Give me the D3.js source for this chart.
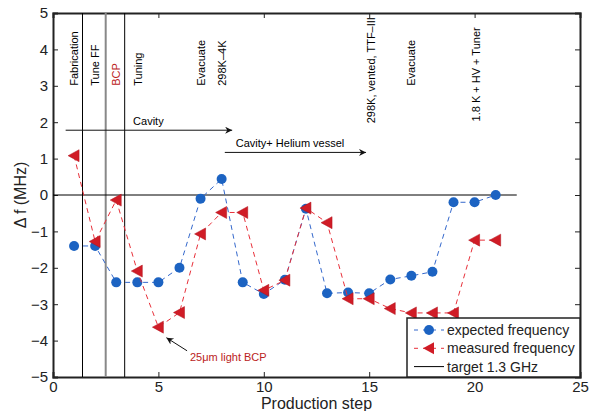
<!DOCTYPE html>
<html>
<head>
<meta charset="utf-8">
<script src="https://cdn.jsdelivr.net/npm/d3@7"></script>
<style>
  body { margin: 0; background: #fff; }
  text { font-family: "Liberation Sans", Arial, sans-serif; }
</style>
</head>
<body>
<div id="chart"></div>
<script>
// production steps and frequency offsets (MHz)
var steps = [1,2,3,4,5,6,7,8,9,10,11,12,13,14,15,16,17,18,19,20,21];
var expected = [-1.4,-1.4,-2.4,-2.4,-2.4,-2.0,-0.1,0.44,-2.4,-2.72,-2.33,-0.38,-2.7,-2.68,-2.7,-2.32,-2.22,-2.11,-0.2,-0.2,0.0];
var measured = [1.08,-1.28,-0.14,-2.09,-3.63,-3.23,-1.07,-0.48,-0.48,-2.62,-2.34,-0.36,-0.76,-2.85,-2.85,-3.12,-3.24,-3.24,-3.24,-1.24,-1.24];

var xTicks = [0,5,10,15,20,25];
var yTicks = [-5,-4,-3,-2,-1,0,1,2,3,4,5];

// phase separators
var separators = [{x: 1.4, c: "#000"}, {x: 2.5, c: "#888"}, {x: 3.4, c: "#000"}];

// rotated step labels
var stepLabels = [
  {x: 1, y: 3, t: "Fabrication", c: "#000"},
  {x: 2, y: 3, t: "Tune FF", c: "#000"},
  {x: 3, y: 3, t: "BCP", c: "#b22"},
  {x: 4.05, y: 3, t: "Tuning", c: "#000"},
  {x: 7, y: 3, t: "Evacuate", c: "#000"},
  {x: 8, y: 3, t: "298K\u20134K", c: "#000"},
  {x: 15.1, y: 1.97, t: "298K, vented, TTF\u2013III", c: "#000"},
  {x: 17, y: 3, t: "Evacuate", c: "#000"},
  {x: 20.05, y: 2.02, t: "1.8 K + HV + Tuner", c: "#000"}
];

var W = 594, H = 411;
var x0 = 53, x1 = 580, y0 = 13, y1 = 377;

var svg = d3.select("#chart").append("svg")
    .attr("width", W).attr("height", H);

var x = d3.scaleLinear().domain([0, 25]).range([x0, x1]);
var y = d3.scaleLinear().domain([-5, 5]).range([y1, y0]);

svg.append("defs").append("marker")
    .attr("id", "arrow")
    .attr("viewBox", "0 -5 10 10")
    .attr("refX", 10).attr("refY", 0)
    .attr("markerWidth", 10).attr("markerHeight", 7)
    .attr("markerUnits", "userSpaceOnUse")
    .attr("orient", "auto")
    .append("path")
    .attr("d", "M0,-5L10,0L0,5L3,0Z")
    .style("fill", "#111");

// axes
var gx = svg.append("g").attr("transform", "translate(0," + y1 + ")")
    .call(d3.axisBottom(x).tickValues(xTicks).tickSize(-5).tickPadding(6));
var gy = svg.append("g").attr("transform", "translate(" + x0 + ",0)")
    .call(d3.axisLeft(y).tickValues(yTicks).tickSize(-5).tickPadding(5).tickFormat(function(d){ return d < 0 ? "\u2212" + (-d) : d; }));
var gt = svg.append("g").attr("transform", "translate(0," + y0 + ")")
    .call(d3.axisTop(x).tickValues(xTicks).tickSize(-5).tickFormat(""));
var gr = svg.append("g").attr("transform", "translate(" + x1 + ",0)")
    .call(d3.axisRight(y).tickValues(yTicks).tickSize(-5).tickFormat(""));

[gx, gy, gt, gr].forEach(function(g){
  g.select(".domain").attr("stroke", "#222").attr("stroke-width", 2);
  g.selectAll(".tick line").attr("stroke", "#222");
  g.selectAll(".tick text").attr("fill", "#222").style("font-size", "15px");
});
gx.selectAll(".tick text").attr("dy", "0.6em");

// separators and target line
svg.selectAll(".sep").data(separators).enter().append("line")
    .attr("x1", function(d){ return x(d.x); }).attr("x2", function(d){ return x(d.x); })
    .attr("y1", y0).attr("y2", y1)
    .style("stroke", function(d){ return d.c; })
    .style("stroke-width", function(d){ return d.c === "#000" ? 1 : 2; });

svg.append("line")
    .attr("x1", x(0)).attr("x2", x(22))
    .attr("y1", y(0)).attr("y2", y(0))
    .style("stroke", "#000").style("stroke-width", 1);

// step labels
svg.selectAll(".lab").data(stepLabels).enter().append("text")
    .attr("transform", function(d){ return "translate(" + x(d.x) + "," + y(d.y) + ") rotate(-90)"; })
    .attr("dominant-baseline", "central")
    .style("font-size", "11px")
    .style("fill", function(d){ return d.c; })
    .text(function(d){ return d.t; });

// phase arrows
svg.append("line")
    .attr("x1", x(0.6)).attr("x2", x(8.5))
    .attr("y1", y(1.78)).attr("y2", y(1.78))
    .style("stroke", "#111").attr("marker-end", "url(#arrow)");
svg.append("text").attr("x", x(3.8)).attr("y", y(1.78) - 5)
    .style("font-size", "11px").text("Cavity");

svg.append("line")
    .attr("x1", x(8.15)).attr("x2", x(14.85))
    .attr("y1", y(1.17)).attr("y2", y(1.17))
    .style("stroke", "#111").attr("marker-end", "url(#arrow)");
svg.append("text").attr("x", x(8.15) + 11).attr("y", y(1.17) - 5)
    .style("font-size", "11px").text("Cavity+ Helium vessel");

// series
var blue = "#1c63c2", blueLine = "#3468cc", red = "#d01c26", redLine = "#e8303a";

var line = d3.line().x(function(d){ return x(d[0]); }).y(function(d){ return y(d[1]); });
var expPts = steps.map(function(s, i){ return [s, expected[i]]; });
var meaPts = steps.map(function(s, i){ return [s, measured[i]]; });

svg.append("path").datum(expPts).attr("d", line)
    .style("fill", "none").style("stroke", blueLine).style("stroke-width", 1)
    .style("stroke-dasharray", "5,4");
svg.selectAll(".exp").data(expPts).enter().append("circle")
    .attr("cx", function(d){ return x(d[0]); })
    .attr("cy", function(d){ return y(d[1]); })
    .attr("r", 5)
    .style("fill", blue);

svg.append("path").datum(meaPts).attr("d", line)
    .style("fill", "none").style("stroke", redLine).style("stroke-width", 1)
    .style("stroke-dasharray", "5,4");
var tri = "M-6,0L5,-6L5,6Z";
svg.selectAll(".mea").data(meaPts).enter().append("path")
    .attr("transform", function(d){ return "translate(" + x(d[0]) + "," + y(d[1]) + ")"; })
    .attr("d", tri)
    .style("fill", red).style("stroke", "#b0101a").style("stroke-width", 0.5);

// annotation
svg.append("line")
    .attr("x1", x(6.36)).attr("y1", y(-4.28))
    .attr("x2", x(5.38)).attr("y2", y(-3.92))
    .style("stroke", "#111").attr("marker-end", "url(#arrow)");
svg.append("text").attr("x", 190).attr("y", 361)
    .style("font-size", "11px").style("fill", "#b22").text("25\u03bcm light BCP");

// axis titles
svg.append("text").attr("x", (x0 + x1) / 2).attr("y", 409)
    .attr("text-anchor", "middle").style("font-size", "16px").style("fill", "#222")
    .text("Production step");
svg.append("text")
    .attr("transform", "translate(26," + y(0) + ") rotate(-90)")
    .attr("text-anchor", "middle").style("font-size", "16px").style("fill", "#222")
    .text("\u0394 f (MHz)");

// legend
var lg = svg.append("g");
lg.append("rect").attr("x", 407).attr("y", 318).attr("width", x1 - 407).attr("height", y1 - 318)
    .style("fill", "#fff").style("stroke", "#222").style("stroke-width", 1.5);
var legendItems = [
  {t: "expected frequency", c: blueLine, m: "circle"},
  {t: "measured frequency", c: redLine, m: "tri"},
  {t: "target 1.3 GHz", c: "#000", m: null}
];
legendItems.forEach(function(d, i){
  var ly = 330 + i * 18.3;
  lg.append("line").attr("x1", 414).attr("x2", 444).attr("y1", ly).attr("y2", ly)
    .style("stroke", d.c).style("stroke-dasharray", d.m ? "4,5" : null);
  if (d.m === "circle") lg.append("circle").attr("cx", 429).attr("cy", ly).attr("r", 5).style("fill", blue);
  if (d.m === "tri") lg.append("path").attr("transform", "translate(429," + ly + ")").attr("d", tri).style("fill", red);
  lg.append("text").attr("x", 447).attr("y", ly).attr("dominant-baseline", "central")
    .style("font-size", "14px").style("fill", "#222").text(d.t);
});
</script>
</body>
</html>
